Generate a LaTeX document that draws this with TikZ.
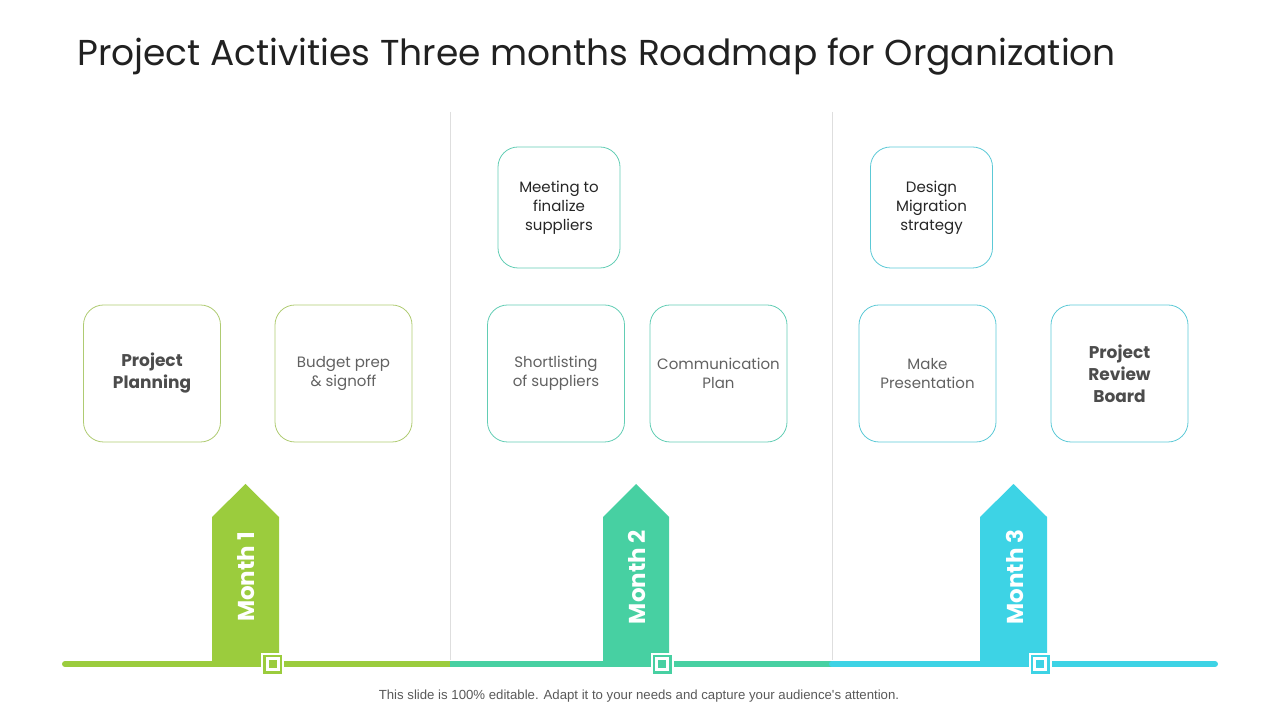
\documentclass[tikz,border=0pt]{standalone}
\usepackage{fontspec}
\setmainfont{Poppins}
\newfontfamily\footfont{Liberation Sans}
\usepackage{tikz}

\definecolor{mgreen}{HTML}{9BCC3D}
\definecolor{mteal}{HTML}{47D0A2}
\definecolor{mcyan}{HTML}{3DD3E5}
\definecolor{bgreen}{HTML}{AFCB72}
\definecolor{bteal}{HTML}{62CDB4}
\definecolor{bcyan}{HTML}{5CC9D6}

\begin{document}
\begin{tikzpicture}[x=1pt, y=1pt, every node/.style={inner sep=0pt}]
	\tikzset{task/.style={draw=#1, line width=0.8pt, rounded corners=20pt, minimum width=137pt, minimum height=137pt, align=center, font=\fontsize{15}{19}\selectfont, text=black!62}}
	\tikzset{small/.style={task=#1, minimum width=122pt, minimum height=121pt, text=black!85}}
	\tikzset{strong/.style={task=#1, font=\fontsize{17}{22}\selectfont\bfseries, text=black!70}}
	\tikzset{month/.style={rotate=90, text=white, font=\fontsize{23}{28}\selectfont\bfseries}}
	\tikzset{marker/.style={rectangle, minimum size=16.5pt, line width=2.5pt, draw=#1, fill=white, outer sep=0pt}}
	\tikzset{pip/.style={rectangle, minimum size=8pt, draw=none, fill=#1}}
	\useasboundingbox (0,0) rectangle (1280,720);
	\node[anchor=base west, font=\fontsize{36}{42}\selectfont, text=black!87] (title) at (77,654) {Project Activities Three months Roadmap for Organization};
	% separators
	\draw[black!13, line width=0.8pt] (450,608) -- (450,60);
	\draw[black!13, line width=0.8pt] (832,608) -- (832,60);
	% tasks
	\node[strong=bgreen] (pp)  at (152,346.5)   {Project\\Planning};
	\node[task=bgreen]   (bp)  at (343.5,346.5) {Budget prep\\\& signoff};
	\node[small=bteal]   (mt)  at (559,512.5)   {Meeting to\\finalize\\suppliers};
	\node[task=bteal]    (sl)  at (556,346.5)   {Shortlisting\\of suppliers};
	\node[task=bteal]    (cp)  at (718.5,346.5) {Communication\\Plan};
	\node[small=bcyan]   (dm)  at (931.5,512.5) {Design\\Migration\\strategy};
	\node[task=bcyan]    (mp)  at (927.5,346.5) {Make\\Presentation};
	\node[strong=bcyan]  (prb) at (1119.5,346.5) {Project\\Review\\Board};
	% timeline
	\coordinate (t0) at (65,56);
	\coordinate (t1) at (450,56);
	\coordinate (t2) at (832,56);
	\coordinate (t3) at (1215,56);
	\draw[mgreen, line width=6pt, line cap=round] (t0) -- (t1);
	\draw[mteal, line width=6pt] (t1) -- (t2);
	\draw[mcyan, line width=6pt, line cap=round] (t2) -- (t3);
	% month arrows
	\fill[mgreen] (212,56) -- (212,203) -- (245.5,236) -- (279,203) -- (279,56) -- cycle;
	\fill[mteal]  (603,56) -- (603,203) -- (636,236)   -- (669,203) -- (669,56) -- cycle;
	\fill[mcyan]  (980,56) -- (980,203) -- (1013.5,236) -- (1047,203) -- (1047,56) -- cycle;
	\node[month] (m1) at (246.5,143) {Month 1};
	\node[month] (m2) at (637,143)   {Month 2};
	\node[month] (m3) at (1014.5,143) {Month 3};
	\fill[white] (261,44) rectangle (284,67);
	\fill[white] (650.5,44) rectangle (673.5,67);
	\fill[white] (1028.5,44) rectangle (1051.5,67);
	\node[marker=mgreen] (s1) at (272.5,55.5) {};
	\node[marker=mteal]  (s2) at (662,55.5)   {};
	\node[marker=mcyan]  (s3) at (1040,55.5)  {};
	\node[pip=mgreen] (p1) at (s1.center) {};
	\node[pip=mteal]  (p2) at (s2.center) {};
	\node[pip=mcyan]  (p3) at (s3.center) {};
	\node[font=\footfont\fontsize{13.2}{16}\selectfont, text=black!65, anchor=base] (foot) at (639,20) {This slide is 100\% editable. Adapt it to your needs and capture your audience's attention.};
\end{tikzpicture}
\end{document}
